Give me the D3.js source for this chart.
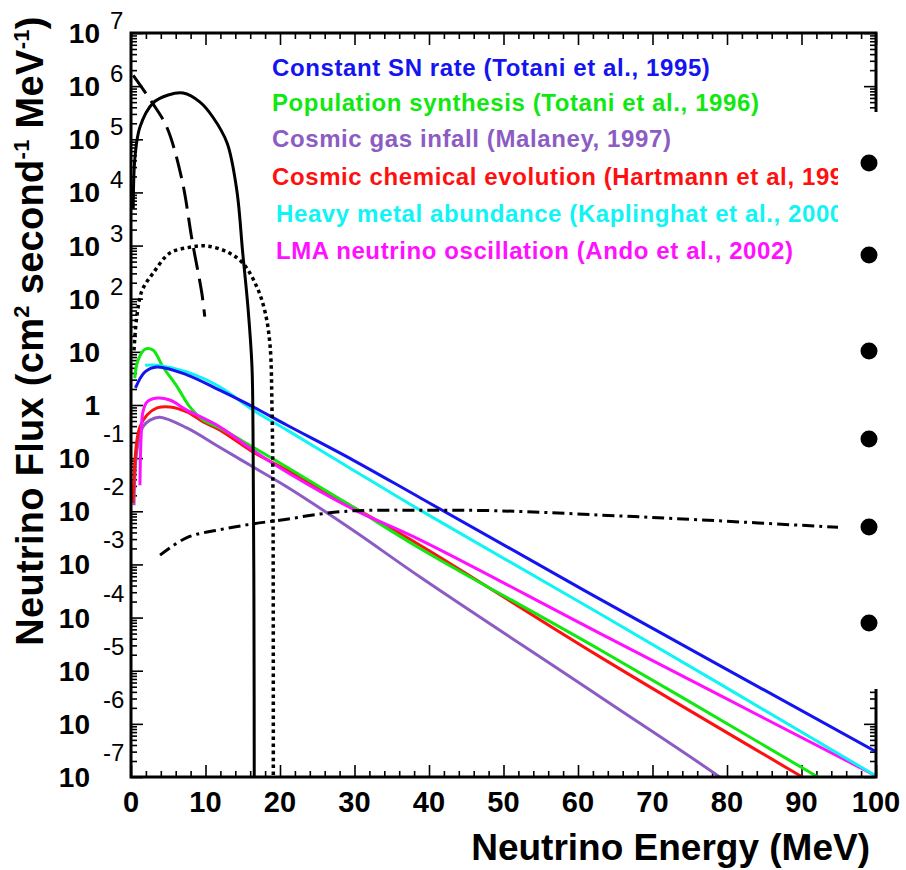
<!DOCTYPE html>
<html>
<head>
<meta charset="utf-8">
<script src="https://cdn.jsdelivr.net/npm/d3@7"></script>
<style>
html,body{margin:0;padding:0;background:#fff;}
svg{display:block;font-family:"Liberation Sans",Arial,Helvetica,sans-serif;}
</style>
</head>
<body>
<svg id="chart" width="906" height="870"></svg>
<script>
// ---------------- data ----------------
const xTicks = [0,10,20,30,40,50,60,70,80,90,100];
const yTickExps = [7,6,5,4,3,2,1,0,-1,-2,-3,-4,-5,-6,-7];

const legendLabels = [
  "Constant SN rate (Totani et al., 1995)",
  "Population synthesis (Totani et al., 1996)",
  "Cosmic gas infall (Malaney, 1997)",
  "Cosmic chemical evolution (Hartmann et al, 1997)",
  "Heavy metal abundance (Kaplinghat et al., 2000)",
  "LMA neutrino oscillation (Ando et al., 2002)"
];
const legendColors = ["#1414f0","#10e810","#8c5cc4","#ff1010","#10f4f4","#ff10ff"];

// black curves
const solidE  = [0.3,0.54,1.2,2.95,5.0,7.0,9.26,11.0,12.9,14.2,15.0,15.7,16.24,16.38,16.5,16.55];
const solidF  = [5e3,4.7e4,1.7e5,4.8e5,6.8e5,7.4e5,5.0e5,2.6e5,8.5e4,1.1e4,7.2e2,69,5.2,0.3,2e-4,1e-8];
const dashedE = [0.3,2.8,4.8,6.85,8.2,9.5,9.9];
const dashedF = [1.6e6,5.0e5,1.7e5,1.7e4,1.26e3,129,46];
const dottedE = [0.4,0.8,1.5,2.95,5.2,7.9,10.2,12.9,15.0,16.9,18.0,18.66,18.93,19.06,19.1];
const dottedF = [10.7,49,145,300,720,930,980,760,470,166,56,13.5,0.81,0.016,1e-8];
const dashDotE = [3.9,7.5,11.9,16.4,20.9,25.4,29.8,38.8,49.5,63,76.4,94.9,100];
const dashDotF = [1.5e-3,3.2e-3,4.5e-3,5.8e-3,7.1e-3,8.9e-3,0.0102,0.0105,0.0102,8.5e-3,6.9e-3,5.0e-3,4.6e-3];

// coloured model curves
const blueE = [0.6,1.88,3.49,7.5,11.9,16.4,20.9,29.8,38.8,63,100];
const blueF = [2.1,4.2,5.2,3.7,1.9,0.92,0.42,0.092,0.018,2.2e-4,3.0e-7];
const greenE = [0.5,0.95,1.9,2.95,4.3,6.2,7.9,9.7,11.9,16.4,20.9,29.8,38.8,63,92.2,94];
const greenF = [3.2,7.0,11.3,10.8,5.2,2.2,0.92,0.52,0.37,0.16,0.068,0.012,2.0e-3,2.45e-5,1.0e-7,7e-8];
const purpleE = [0.4,0.8,1.6,2.55,3.9,7.5,11.9,16.4,20.9,29.8,38.8,63,79,81];
const purpleF = [0.013,0.14,0.39,0.52,0.59,0.37,0.16,0.068,0.029,4.4e-3,5.8e-4,3.2e-6,1.0e-7,6e-8];
const redE = [0.27,0.54,0.8,1.2,2.15,3.5,5.2,7.5,9.7,11.9,16.4,20.9,29.8,38.8,63,90.1,92];
const redF = [0.0144,0.093,0.22,0.39,0.65,0.88,0.92,0.74,0.48,0.34,0.13,0.060,0.012,2.3e-3,1.8e-5,1.0e-7,7e-8];
const cyanE = [1.9,3.5,7.5,11.9,16.4,20.9,29.8,38.8,63,100];
const cyanF = [5.6,5.6,4.2,2.2,0.80,0.34,0.060,0.0105,1.17e-4,1.05e-7];
const magentaE = [1.2,1.34,1.6,2.15,3.5,5.2,7.5,11.9,16.4,20.9,29.8,38.8,63,100];
const magentaF = [0.031,0.22,0.74,1.14,1.35,1.24,0.80,0.39,0.14,0.055,0.011,2.9e-3,5.0e-5,1.05e-7];

const bulletRows = [1,2,3,4,5,6];

// ---------------- layout ----------------
const L = 131, R = 876, T = 33, B = 777;
const svg = d3.select("#chart");
const x = d3.scaleLinear().domain([0,100]).range([L,R]);
const y = d3.scaleLog().domain([1e-7,1e7]).range([B,T]);

svg.append("defs").append("clipPath").attr("id","plotclip")
  .append("rect").attr("x",L).attr("y",T).attr("width",R-L).attr("height",B-T);

// ticks
const xMinor = d3.range(0,101,2).filter(v=>v%10!==0);
const yMajor = yTickExps.map(e=>Math.pow(10,e));
const yMinor = [];
for(let k=-7;k<7;k++) for(let m=2;m<10;m++) yMinor.push(m*Math.pow(10,k));

function styleAxis(g){
  g.select(".domain").remove();
  g.selectAll("line").attr("stroke","#000").attr("stroke-width",1.6);
}
const axes = svg.append("g");
axes.append("g").attr("transform",`translate(0,${B})`).call(d3.axisBottom(x).tickValues(xTicks).tickSize(-12).tickFormat("")).call(styleAxis);
axes.append("g").attr("transform",`translate(0,${B})`).call(d3.axisBottom(x).tickValues(xMinor).tickSize(-6).tickFormat("")).call(styleAxis);
axes.append("g").attr("transform",`translate(0,${T})`).call(d3.axisTop(x).tickValues(xTicks).tickSize(-12).tickFormat("")).call(styleAxis);
axes.append("g").attr("transform",`translate(0,${T})`).call(d3.axisTop(x).tickValues(xMinor).tickSize(-6).tickFormat("")).call(styleAxis);
axes.append("g").attr("transform",`translate(${L},0)`).call(d3.axisLeft(y).tickValues(yMajor).tickSize(-12).tickFormat("")).call(styleAxis);
axes.append("g").attr("transform",`translate(${L},0)`).call(d3.axisLeft(y).tickValues(yMinor).tickSize(-6).tickFormat("")).call(styleAxis);
axes.append("g").attr("transform",`translate(${R},0)`).call(d3.axisRight(y).tickValues(yMajor).tickSize(-12).tickFormat("")).call(styleAxis);
axes.append("g").attr("transform",`translate(${R},0)`).call(d3.axisRight(y).tickValues(yMinor).tickSize(-6).tickFormat("")).call(styleAxis);

// curves
const line = d3.line().x(d=>x(d[0])).y(d=>y(d[1])).curve(d3.curveCatmullRom.alpha(0.5));
const zip = (a,b)=>a.map((v,i)=>[v,b[i]]);
const curves = svg.append("g").attr("clip-path","url(#plotclip)").attr("fill","none");

const coloured = [
  [purpleE,purpleF,legendColors[2]],
  [redE,redF,legendColors[3]],
  [greenE,greenF,legendColors[1]],
  [magentaE,magentaF,legendColors[5]],
  [cyanE,cyanF,legendColors[4]],
  [blueE,blueF,legendColors[0]]
];
coloured.forEach(([e,f,c])=>{
  curves.append("path").attr("d",line(zip(e,f))).attr("stroke",c).attr("stroke-width",3);
});
curves.append("path").attr("d",line(zip(solidE,solidF))).attr("stroke","#000").attr("stroke-width",3);
curves.append("path").attr("d",line(zip(dashedE,dashedF))).attr("stroke","#000").attr("stroke-width",3).attr("stroke-dasharray","22,9");
curves.append("path").attr("d",line(zip(dottedE,dottedF))).attr("stroke","#000").attr("stroke-width",3.5).attr("stroke-dasharray","3.5,3.5");
curves.append("path").attr("d",line(zip(dashDotE,dashDotF))).attr("stroke","#000").attr("stroke-width",3).attr("stroke-dasharray","12,5,3,5");

// frame
svg.append("rect").attr("x",L).attr("y",T).attr("width",R-L).attr("height",B-T)
  .attr("fill","none").attr("stroke","#000").attr("stroke-width",3);

// x tick labels
svg.append("g").selectAll("text").data(xTicks).join("text")
  .attr("x",d=>x(d)).attr("y",812).attr("text-anchor","middle")
  .attr("font-size",29).attr("font-weight","bold").text(d=>d);

// y tick labels
const yl = svg.append("g");
yTickExps.forEach(e=>{
  const ty = y(Math.pow(10,e));
  const neg = e<0;
  const baseRight = neg ? 90 : 100;
  yl.append("text").attr("x",baseRight).attr("y",ty+10).attr("text-anchor","end")
    .attr("font-size",28).attr("font-weight","bold").text(e===0?"1":"10");
  if(e>1 || e<0){
    yl.append("text").attr("x",baseRight+ (neg?13:10)).attr("y",neg?ty-16:ty-4)
      .attr("font-size",24).text(neg?"-"+Math.abs(e):e);
  }
});

// legend
svg.append("g").selectAll("text").data(legendLabels).join("text")
  .attr("x",(d,i)=> i>=4 ? 276 : 272)
  .attr("y",(d,i)=>[67,102,138,176,213,250][i]+8.5)
  .attr("font-size",24).attr("font-weight","bold").attr("letter-spacing",0.6)
  .attr("fill",(d,i)=>legendColors[i]).text(d=>d);

// axis titles
svg.append("text").attr("x",870).attr("y",860).attr("text-anchor","end")
  .attr("font-size",37).attr("font-weight","bold").text("Neutrino Energy (MeV)");

const yt = svg.append("text").attr("transform","translate(43,331) rotate(-90)")
  .attr("text-anchor","middle").attr("font-size",38).attr("font-weight","bold").attr("letter-spacing",0.3);
yt.append("tspan").text("Neutrino Flux (cm");
yt.append("tspan").attr("font-size",22).attr("dy",-14).text("2");
yt.append("tspan").attr("dy",14).text(" second");
yt.append("tspan").attr("font-size",22).attr("dy",-14).text("-1");
yt.append("tspan").attr("dy",14).text(" MeV");
yt.append("tspan").attr("font-size",22).attr("dy",-14).text("-1");
yt.append("tspan").attr("dy",14).text(")");

// overlay bullet box
svg.append("rect").attr("x",838).attr("y",112).attr("width",68).attr("height",577).attr("fill","#fff");
svg.append("g").selectAll("circle").data(bulletRows).join("circle")
  .attr("cx",869).attr("cy",(d,i)=>[163,255,351,439,527,623][i]).attr("r",8.5).attr("fill","#000");
</script>
</body>
</html>
